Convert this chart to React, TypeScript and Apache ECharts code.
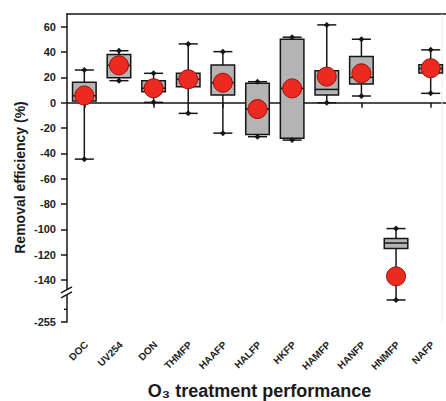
import React, { useEffect, useRef } from 'react';
import * as echarts from 'echarts';

const categories = ['DOC', 'UV254', 'DON', 'THMFP', 'HAAFP', 'HALFP', 'HKFP', 'HAMFP', 'HANFP', 'HNMFP', 'NAFP'];
const whiskerMax = [25.8, 41, 23.2, 46.4, 40.3, 16.6, 51.7, 61.4, 50.1, -99.3, 41.7];
const q3Vals = [16.1, 38, 17.4, 23.2, 29.8, 15.3, 50, 25.3, 36.4, -107.2, 30];
const medianVals = [5.5, 29.5, 11.4, 18.5, 15.8, -5, 11.3, 10.5, 20, -110.7, 27];
const q1Vals = [1.3, 19.8, 8.7, 12.7, 6.1, -25, -28, 6.1, 14.8, -115, 23.5];
const whiskerMin = [-44.5, 17.4, 0.3, -8.4, -24, -26.8, -29.5, 0, 5.3, -237.6, 7.4];
const meanVals = [5.7, 29.5, 11.4, 18.5, 15.8, -5, 11.3, 20.6, 23.2, -137, 27.2];

const yTickLabels = [60, 40, 20, 0, -20, -40, -60, -80, -100, -120, -140, -255];
const yMinorTicks = [-245];
const Y_TOP = 70;
const BREAK_AT = -150;
const BREAK_SHIFT = 82;

const xTitle = 'O₃ treatment performance';
const yTitle = 'Removal efficiency (%)';

const toAxis = (v: number) => (v >= BREAK_AT ? v : v + BREAK_SHIFT);
const fromAxis = (d: number) => (d >= BREAK_AT ? d : d - BREAK_SHIFT);

const FONT = '"Liberation Sans", Arial, sans-serif';
const INK = '#161616';
const GRID_LEFT = 67;

export default function App() {
  const ref = useRef<HTMLDivElement>(null);
  useEffect(() => {
    document.body.style.margin = '0';
    const chart = echarts.init(ref.current!, undefined, { renderer: 'svg' });
    const boxData = categories.map((_, i) => [
      i,
      toAxis(whiskerMin[i]),
      toAxis(q1Vals[i]),
      toAxis(medianVals[i]),
      toAxis(q3Vals[i]),
      toAxis(whiskerMax[i]),
    ]);
    const meanData = meanVals.map((m, i) => [i, toAxis(m)]);
    const yMin = toAxis(Math.min(...yTickLabels));

    chart.setOption({
      animation: false,
      grid: { left: GRID_LEFT, right: -2, top: 14, bottom: 79, outerBoundsMode: 'none', containLabel: false },
      xAxis: [
        {
          type: 'category',
          data: categories,
          boundaryGap: true,
          position: 'bottom',
          axisLine: { show: true, lineStyle: { color: INK, width: 1.5 } },
          axisTick: { show: true, alignWithLabel: true, length: 5, lineStyle: { color: INK, width: 1.5 } },
          axisLabel: { show: false },
          splitLine: { show: false },
        },
        {
          type: 'category',
          data: categories,
          position: 'top',
          axisLine: { show: true, lineStyle: { color: INK, width: 1.5 } },
          axisTick: { show: false },
          axisLabel: { show: false },
          splitLine: { show: false },
        },
      ],
      yAxis: {
        type: 'value',
        min: yMin,
        max: Y_TOP,
        axisLine: { show: true, lineStyle: { color: INK, width: 1.5 } },
        axisTick: {
          show: true,
          length: 6,
          customValues: yTickLabels.map(toAxis),
          lineStyle: { color: INK, width: 1.5 },
        },
        axisLabel: {
          customValues: yTickLabels.map(toAxis),
          formatter: (d: number) => String(Math.round(fromAxis(d))),
          margin: 11,
          fontSize: 11,
          fontWeight: 'bold',
          color: '#222',
          fontFamily: FONT,
        },
        splitLine: { show: false },
      },
      series: [
        {
          type: 'custom',
          data: boxData,
          encode: { x: 0, y: [1, 2, 3, 4, 5] },
          z: 2,
          renderItem: (params: any, api: any) => {
            const xi = api.value(0);
            const pMin = api.coord([xi, api.value(1)]);
            const pQ1 = api.coord([xi, api.value(2)]);
            const pMed = api.coord([xi, api.value(3)]);
            const pQ3 = api.coord([xi, api.value(4)]);
            const pMax = api.coord([xi, api.value(5)]);
            const band = api.size([1, 0])[0];
            const bw = band * 0.68;
            const cw = band * 0.55;
            const cx = pMax[0];
            const ls = { stroke: INK, lineWidth: 1.5 };
            const diamond = (y: number) => ({
              type: 'polygon',
              shape: { points: [[cx, y - 3], [cx + 3, y], [cx, y + 3], [cx - 3, y]] },
              style: { fill: INK },
            });
            return {
              type: 'group',
              children: [
                { type: 'line', shape: { x1: cx, y1: pMax[1], x2: cx, y2: pMin[1] }, style: ls },
                { type: 'line', shape: { x1: cx - cw / 2, y1: pMax[1], x2: cx + cw / 2, y2: pMax[1] }, style: ls },
                { type: 'line', shape: { x1: cx - cw / 2, y1: pMin[1], x2: cx + cw / 2, y2: pMin[1] }, style: ls },
                {
                  type: 'rect',
                  shape: { x: cx - bw / 2, y: pQ3[1], width: bw, height: pQ1[1] - pQ3[1] },
                  style: { fill: '#b4b4b4', stroke: INK, lineWidth: 1.5 },
                },
                { type: 'line', shape: { x1: cx - bw / 2, y1: pMed[1], x2: cx + bw / 2, y2: pMed[1] }, style: ls },
                diamond(pMax[1]),
                diamond(pMin[1]),
              ],
            };
          },
        },
        {
          type: 'scatter',
          data: meanData,
          symbol: 'circle',
          symbolSize: 19,
          z: 5,
          itemStyle: { color: '#ec2a1f', borderColor: '#9a120c', borderWidth: 1, opacity: 1 },
        },
      ],
    });

    const yb = chart.convertToPixel({ yAxisIndex: 0 }, BREAK_AT) as number;
    const yBottom = chart.convertToPixel({ yAxisIndex: 0 }, yMin) as number;
    const yTopPx = chart.convertToPixel({ yAxisIndex: 0 }, Y_TOP) as number;
    const minorPx = yMinorTicks.map((v) => chart.convertToPixel({ yAxisIndex: 0 }, toAxis(v)) as number);
    const catPx = categories.map((_, i) => chart.convertToPixel({ xAxisIndex: 0 }, i) as number);
    const gl = GRID_LEFT;
    chart.setOption({
      graphic: [
        {
          type: 'line',
          shape: { x1: 442, y1: yTopPx, x2: 442, y2: yBottom },
          style: { stroke: '#ececec', lineWidth: 1 },
          z: 1,
        },
        {
          type: 'rect',
          shape: { x: gl - 2, y: yb - 3.5, width: 4, height: 5.5 },
          style: { fill: '#fff' },
          z: 10,
        },
        {
          type: 'line',
          shape: { x1: gl - 6, y1: yb, x2: gl + 5, y2: yb - 6 },
          style: { stroke: INK, lineWidth: 1.5 },
          z: 11,
        },
        {
          type: 'line',
          shape: { x1: gl - 6, y1: yb + 5, x2: gl + 5, y2: yb - 1 },
          style: { stroke: INK, lineWidth: 1.5 },
          z: 11,
        },
        ...minorPx.map((y) => ({
          type: 'line',
          shape: { x1: gl - 3, y1: y, x2: gl, y2: y },
          style: { stroke: INK, lineWidth: 1.5 },
          z: 11,
        })),
        ...categories.map((c, i) => ({
          type: 'group',
          x: catPx[i] + 2,
          y: yBottom + 21,
          rotation: Math.PI / 4,
          z: 12,
          children: [
            {
              type: 'text',
              x: 0,
              y: 0,
              style: {
                text: c,
                align: 'right',
                verticalAlign: 'middle',
                fontSize: 10,
                fontWeight: 'bold',
                fontFamily: FONT,
                fill: '#222',
              },
            },
          ],
        })),
        {
          type: 'text',
          x: 20,
          y: 177.5,
          rotation: Math.PI / 2,
          style: {
            text: yTitle,
            align: 'center',
            verticalAlign: 'middle',
            fontSize: 14,
            fontWeight: 'bold',
            fontFamily: FONT,
            fill: '#1a1a1a',
          },
          z: 12,
        },
        {
          type: 'text',
          x: 259.5,
          y: 391,
          style: {
            text: xTitle,
            align: 'center',
            verticalAlign: 'middle',
            fontSize: 18,
            fontWeight: 'bold',
            fontFamily: FONT,
            fill: '#1a1a1a',
          },
          z: 12,
        },
      ],
    });

    return () => chart.dispose();
  }, []);
  return <div ref={ref} style={{ width: 446, height: 401 }} />;
}
